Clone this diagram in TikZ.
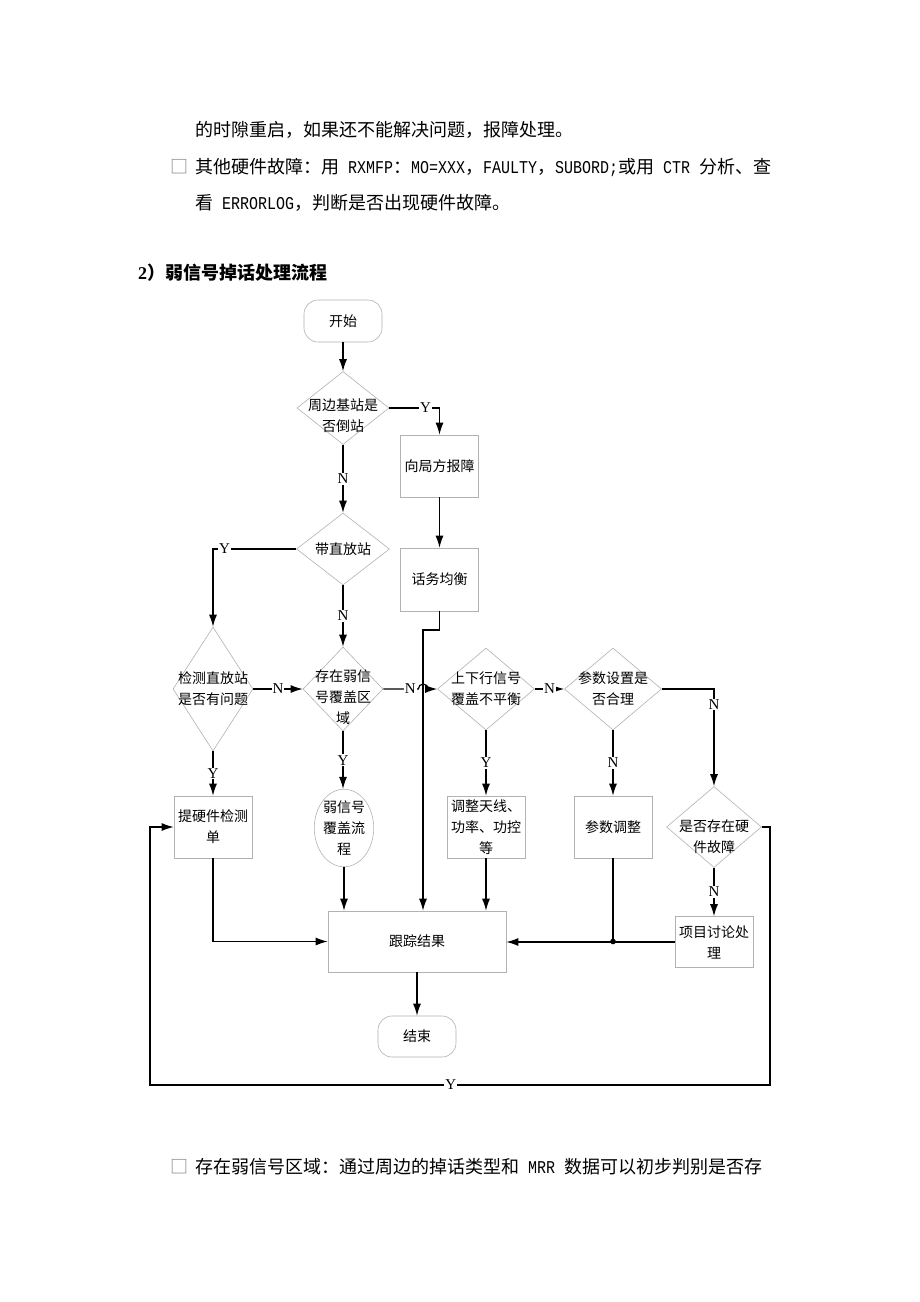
\documentclass[tikz,border=0pt]{standalone}
\usepackage{fontspec}
\setmainfont{Noto Sans CJK SC}
\newfontfamily\lat{Liberation Serif}
\newfontfamily\half[FakeStretch=0.833]{Liberation Mono}
\usetikzlibrary{shapes.geometric,arrows.meta}
\tikzstyle{process}=[rectangle,draw=gray!60,line width=0.6pt,minimum width=78pt,minimum height=62pt,align=center,inner sep=1pt]
\tikzstyle{decision}=[diamond,draw=gray!60,line width=0.6pt,inner sep=0pt]
\tikzstyle{terminal}=[rectangle,rounded corners=14pt,draw=gray!60,line width=0.6pt,minimum width=78pt,minimum height=42pt]
\tikzstyle{arrow}=[line width=1.2pt,-{Latex[length=12pt,width=8pt]}]
\tikzstyle{line}=[line width=1.2pt]
\tikzstyle{yn}=[fill=white,inner sep=1pt,font=\lat\fontsize{15}{15}\selectfont]
\tikzstyle{body}=[anchor=west,inner sep=0pt,font=\fontsize{18}{18}\selectfont]

\begin{document}
\begin{tikzpicture}[x=1pt,y=-1pt,font=\fontsize{14}{21}\selectfont]
\fill[white] (0,0) rectangle (920,1302);
\useasboundingbox (0,0) rectangle (920,1302);

% page text
\node[body] (para1) at (195,130) {的时隙重启，如果还不能解决问题，报障处理。};
\node[body,text=gray] (bullet1) at (170,167) {□};
\node[body] (para2) at (195,167) {其他硬件故障：用{\half\ RXMFP}：{\half MO=XXX}，{\half FAULTY}，{\half SUBORD;}或用{\half\ CTR\ }分析、查};
\node[body] (para3) at (195,203) {看{\half\ ERRORLOG}，判断是否出现硬件故障。};
\node[body,font=\fontsize{18}{18}\selectfont\bfseries] (title) at (138,273) {{\lat\bfseries 2}）弱信号掉话处理流程};
\node[body,text=gray] (bullet2) at (170,1167) {□};
\node[body] (para4) at (195,1167) {存在弱信号区域：通过周边的掉话类型和{\half\ MRR\ }数据可以初步判别是否存};

% flow chart
\node[terminal] (start) at (343,321) {开始};
\node[decision,minimum width=92pt,minimum height=73pt,label={[align=center,yshift=-8pt]center:{周边基站是\\否倒站}}] (d1) at (343,408) {};
\node[process,minimum height=62pt] (report) at (439.5,466) {向局方报障};
\node[process,minimum height=63pt] (balance) at (439.5,579.5) {话务均衡};
\node[decision,minimum width=93pt,minimum height=72pt,label={center:带直放站}] (d2) at (343,549) {};
\node[decision,minimum width=80pt,minimum height=124pt,label={[align=center]center:{检测直放站\\是否有问题}}] (d3) at (213,689) {};
\node[decision,minimum width=80pt,minimum height=84pt,label={[align=center,yshift=-8pt]center:{存在弱信\\号覆盖区\\域}}] (d4) at (343,689) {};
\node[decision,minimum width=97pt,minimum height=82pt,label={[align=center]center:{上下行信号\\覆盖不平衡}}] (d5) at (486,689) {};
\node[decision,minimum width=97pt,minimum height=82pt,label={[align=center]center:{参数设置是\\否合理}}] (d6) at (613,689) {};
\node[decision,minimum width=95pt,minimum height=81pt,label={[align=center,yshift=-10pt]center:{是否存在硬\\件故障}}] (d7) at (714,827) {};
\node[process] (hwform) at (213,827) {提硬件检测\\单};
\node[ellipse,draw=gray!60,line width=0.6pt,minimum width=56pt,minimum height=76pt,inner sep=0pt,align=center] (weak) at (344,828) {弱信号\\覆盖流\\程};
\node[process] (adjust) at (486,827) {调整天线、\\功率、功控\\等};
\node[process] (param) at (613,827) {参数调整};
\node[process,minimum height=51pt] (discuss) at (714,942) {项目讨论处\\理};
\node[process,minimum width=178pt,minimum height=61pt] (track) at (417,941.5) {跟踪结果};
\node[terminal,minimum height=41pt] (stop) at (417,1036.5) {结束};

\coordinate (drop) at (423,630);
\coordinate (loopR) at (770,1085);
\coordinate (loopL) at (150,1085);

\draw[arrow] (start) -- (d1);
\draw[arrow] (d1.east) -| node[yn,pos=0.36]{Y} (report.north);
\draw[arrow] (report) -- (balance);
\draw[arrow] (d1) -- node[yn]{N} (d2);
\draw[arrow] (d2.west) -| node[yn,pos=0.43]{Y} (d3.north);
\draw[arrow] (d2) -- node[yn]{N} (d4);
\draw[arrow] (d3) -- node[yn]{N} (d4);
\draw[arrow] (d4.east) -- node[yn,pos=0.77]{N} ++(35,0) arc[start angle=180,end angle=360,radius=5] -- (d5.west);
\draw[arrow] (balance.south) |- (drop) -- (drop |- track.north);
\draw[arrow] (d5) -- node[yn]{N} (d6);
\draw[arrow] (d6.east) -| node[yn,pos=0.58]{N} (d7.north);
\draw[arrow] (d7) -- node[yn]{N} (discuss);
\draw[arrow] (d3) -- node[yn]{Y} (hwform);
\draw[arrow] (d4.south) -- node[yn]{Y} (d4.south |- weak.north);
\draw[arrow] (d5) -- node[yn]{Y} (adjust);
\draw[arrow] (d6) -- node[yn]{N} (param);
\draw[arrow] (d7.east) -| (loopR) -- node[yn,pos=0.515]{Y} (loopL) |- (hwform.west);
\draw[arrow] (hwform.south) |- (track.west);
\draw[arrow] (weak) -- (weak |- track.north);
\draw[arrow] (adjust) -- (adjust |- track.north);
\draw[arrow] (discuss.west) -- (discuss.west -| track.east);
\draw[line] (param.south) -- (param.south |- track.east) node[circle,fill,inner sep=2pt] (joint) {};
\draw[arrow] (track) -- (stop);
\end{tikzpicture}
\end{document}
